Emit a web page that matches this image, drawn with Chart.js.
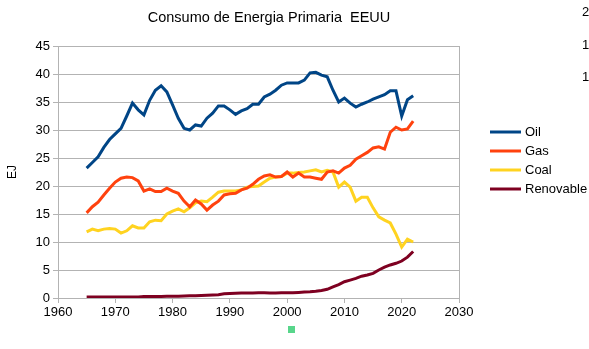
<!DOCTYPE html>
<html>
<head>
<meta charset="utf-8">
<script src="https://cdn.jsdelivr.net/npm/chart.js@4"></script>
<style>
  html, body { margin: 0; padding: 0; background: #fff; }
  #wrap { position: relative; width: 589px; height: 349px; }
</style>
</head>
<body>
<div id="wrap"><canvas id="energiaChart" width="589" height="349"></canvas></div>
<script>
// años 1965 - 2022
const years = [];
for (let y = 1965; y <= 2022; y++) years.push(y);

const oil = [23.2, 24.2, 25.2, 26.9, 28.3, 29.3, 30.3, 32.5, 34.8, 33.6, 32.7, 35.3, 37.1, 37.9, 36.8, 34.5,
  32.1, 30.3, 30.0, 30.9, 30.7, 32.1, 33.0, 34.3, 34.3, 33.6, 32.8, 33.4, 33.8, 34.6, 34.6, 35.9,
  36.4, 37.1, 38.0, 38.4, 38.4, 38.4, 38.9, 40.2, 40.3, 39.8, 39.5, 37.1, 35.0, 35.7, 34.8, 34.1,
  34.6, 35.0, 35.5, 35.9, 36.3, 37.0, 37.0, 32.5, 35.4, 36.1];
const gas = [15.2, 16.3, 17.1, 18.4, 19.6, 20.7, 21.4, 21.6, 21.5, 20.9, 19.1, 19.5, 19.0, 19.0, 19.6, 19.1,
  18.7, 17.3, 16.3, 17.5, 16.8, 15.7, 16.6, 17.3, 18.4, 18.6, 18.7, 19.3, 19.6, 20.3, 21.2, 21.8,
  22.0, 21.6, 21.7, 22.5, 21.6, 22.3, 21.6, 21.6, 21.4, 21.2, 22.5, 22.7, 22.3, 23.2, 23.7, 24.8,
  25.4, 26.0, 26.8, 27.0, 26.6, 29.6, 30.5, 30.0, 30.2, 31.6];
const coal = [11.8, 12.3, 12.0, 12.3, 12.4, 12.3, 11.6, 12.0, 12.9, 12.5, 12.5, 13.6, 13.9, 13.8, 15.0, 15.5,
  15.9, 15.4, 16.1, 17.0, 17.3, 17.2, 18.0, 18.9, 19.1, 19.1, 19.1, 19.3, 19.8, 19.9, 20.0, 20.7,
  21.4, 21.6, 21.7, 22.3, 22.3, 22.4, 22.5, 22.7, 22.9, 22.5, 22.8, 22.5, 19.8, 20.7, 19.8, 17.3,
  18.0, 18.0, 16.1, 14.5, 13.9, 13.4, 11.4, 9.1, 10.5, 10.0];
const renovable = [0.2, 0.2, 0.2, 0.2, 0.2, 0.2, 0.2, 0.2, 0.2, 0.2, 0.25, 0.25, 0.25, 0.28, 0.3, 0.3,
  0.32, 0.35, 0.38, 0.42, 0.45, 0.5, 0.55, 0.6, 0.75, 0.8, 0.85, 0.88, 0.9, 0.9, 0.92, 0.92,
  0.9, 0.9, 0.92, 0.95, 0.95, 1.0, 1.05, 1.1, 1.2, 1.35, 1.55, 2.0, 2.4, 2.9, 3.2, 3.5,
  3.9, 4.1, 4.4, 5.0, 5.5, 5.9, 6.2, 6.6, 7.3, 8.3];

const seriesNames = ['Oil', 'Gas', 'Coal', 'Renovable'];
const seriesColors = ['#004586', '#ff420e', '#ffd320', '#7e0021'];
const seriesData = [oil, gas, coal, renovable];

const xTicks = [1960, 1970, 1980, 1990, 2000, 2010, 2020, 2030];
const yTicks = [0, 5, 10, 15, 20, 25, 30, 35, 40, 45];

const FONT = '"Liberation Sans", Arial, sans-serif';
const GRID = '#b3b3b3';

// titulo, leyenda y restos de la hoja
const extras = {
  id: 'extras',
  afterDraw(chart) {
    const c = chart.ctx;
    c.save();
    c.fillStyle = '#000';
    c.font = '14.5px ' + FONT;
    c.textAlign = 'center';
    c.textBaseline = 'middle';
    c.fillText('Consumo de Energia Primaria  EEUU', 269, 18);

    c.font = '13px ' + FONT;
    c.textAlign = 'left';
    const rows = [132, 151, 170, 189];
    seriesNames.forEach((n, i) => {
      c.strokeStyle = seriesColors[i];
      c.lineWidth = 3;
      c.beginPath();
      c.moveTo(490, rows[i]);
      c.lineTo(521, rows[i]);
      c.stroke();
      c.fillStyle = '#000';
      c.fillText(n, 525, rows[i]);
    });

    c.fillText('2', 582, 12);
    c.fillText('1', 582, 45);
    c.fillText('1', 582, 77);

    c.fillStyle = '#58d68b';
    c.fillRect(288, 326, 7, 7);
    c.restore();
  }
};

new Chart(document.getElementById('energiaChart'), {
  type: 'line',
  data: {
    datasets: seriesNames.map((n, i) => ({
      label: n,
      data: years.map((y, k) => ({ x: y, y: seriesData[i][k] })),
      borderColor: seriesColors[i],
      backgroundColor: seriesColors[i],
      borderWidth: 3,
      pointRadius: 0,
      tension: 0,
      fill: false
    }))
  },
  options: {
    responsive: false,
    animation: false,
    layout: { padding: { top: 46, right: 130, left: 5, bottom: 0 } },
    plugins: {
      legend: { display: false },
      title: { display: false },
      tooltip: { enabled: false }
    },
    scales: {
      x: {
        type: 'linear',
        min: 1960,
        max: 2030,
        afterBuildTicks: s => { s.ticks = xTicks.map(v => ({ value: v })); },
        afterFit: s => { s.height = 51; },
        ticks: { color: '#000', font: { family: FONT, size: 13 }, padding: 2, callback: v => String(v) },
        grid: {
          color: ctx => (ctx.tick && ctx.tick.value === 2030 ? GRID : 'rgba(0,0,0,0)'),
          tickColor: GRID,
          tickLength: 5
        },
        border: { color: GRID }
      },
      y: {
        min: 0,
        max: 45,
        afterBuildTicks: s => { s.ticks = yTicks.map(v => ({ value: v })); },
        afterFit: s => { s.width = 53; },
        ticks: { color: '#000', font: { family: FONT, size: 13 }, padding: 3 },
        title: { display: true, text: 'EJ', color: '#000', font: { family: FONT, size: 12 }, padding: 0 },
        grid: { color: GRID, tickColor: GRID, tickLength: 5 },
        border: { color: GRID }
      }
    }
  },
  plugins: [extras]
});
</script>
</body>
</html>
